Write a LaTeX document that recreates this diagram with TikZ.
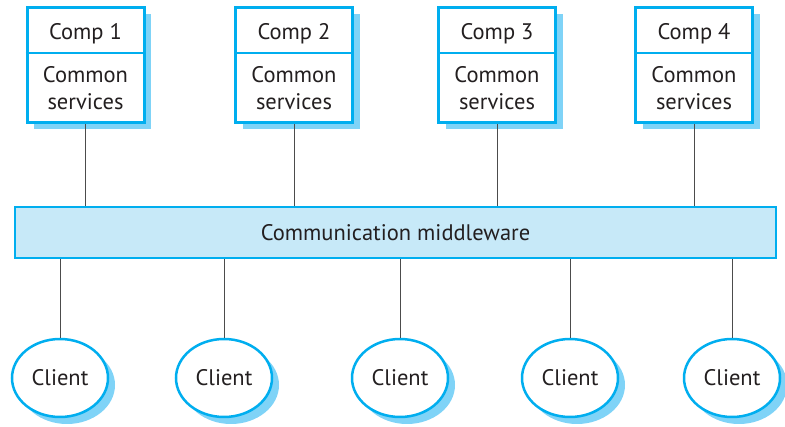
\documentclass[tikz,border=0pt]{standalone}
\usepackage{fontspec}
\setmainfont{PT Sans}
\usepackage{tikz}
\usetikzlibrary{shapes.geometric,shadows,positioning}
\definecolor{mcyan}{HTML}{00AEEF}
\definecolor{mshade}{HTML}{7FD3F7}
\definecolor{mfill}{HTML}{C7E9F8}
\definecolor{mtext}{HTML}{231F20}
\begin{document}
\begin{tikzpicture}[x=1pt, y=-1pt, font=\fontsize{22.5}{27}\selectfont, text=mtext,
  compbox/.style={draw=mcyan, line width=3pt, fill=white, minimum width=117pt, minimum height=115pt, inner sep=0pt,
    drop shadow={shadow xshift=7pt, shadow yshift=-6pt, fill=mshade, opacity=1}},
  client/.style={ellipse, draw=mcyan, line width=2.5pt, fill=white, minimum width=96pt, minimum height=78pt, inner sep=0pt,
    drop shadow={shadow xshift=7pt, shadow yshift=-7pt, fill=mshade, opacity=1}},
  bus/.style={draw=mcyan, line width=2pt, fill=mfill, minimum width=761pt, minimum height=51pt, inner sep=0pt},
  link/.style={draw=black!70, line width=1pt},
]
\useasboundingbox (0,0) rectangle (785,427);
% middleware bar
\node[bus] (mw) at (395.5,232.5) {Communication middleware};
% components
\foreach \i/\x in {1/85.5,2/294,3/497,4/694} {
  \node[compbox] (c\i) at (\x,65.5) {};
  \draw[mcyan, line width=2pt] ([yshift=-47pt]c\i.north west) -- ([yshift=-47pt]c\i.north east);
  \node (t\i) at (\x,34) {Comp \i};
  \node[align=center] (s\i) at (\x,88) {Common\\services};
  \draw[link] (c\i.south) -- (c\i.south |- mw.north);
}
% clients
\foreach \i/\x in {1/60,2/224,3/400,4/570,5/732} {
  \node[client] (cl\i) at (\x,378) {Client};
  \draw[link] (mw.south -| cl\i.north) -- (cl\i.north);
}
\end{tikzpicture}
\end{document}
